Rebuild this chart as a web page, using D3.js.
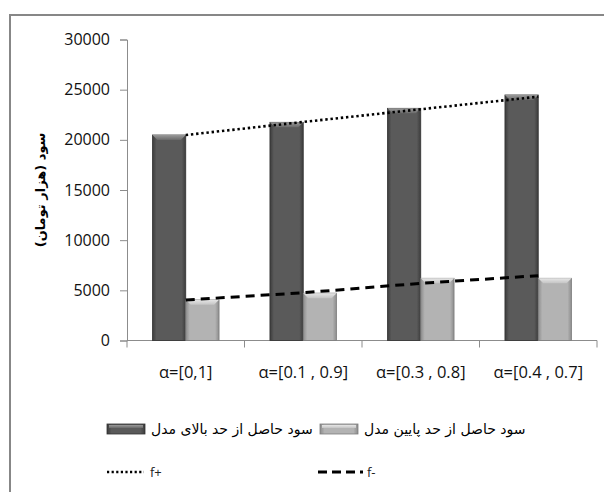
<!DOCTYPE html>
<html>
<head>
<meta charset="utf-8">
<script src="https://cdn.jsdelivr.net/npm/d3@7"></script>
<style>
  body { margin: 0; background: #fff; }
  svg { display: block; }
</style>
</head>
<body>
<div id="chart"></div>
<script>
const categories = ['α=[0,1]', 'α=[0.1 , 0.9]', 'α=[0.3 , 0.8]', 'α=[0.4 , 0.7]'];
const upperProfit = [20480, 21745, 23140, 24470];
const lowerProfit = [4050, 4720, 6200, 6200];
const fPlus  = [20480, 21780, 23050, 24300];
const fMinus = [4040, 4760, 5700, 6460];
const yTicks = [0, 5000, 10000, 15000, 20000, 25000, 30000];
const seriesNames = ['سود حاصل از حد بالای مدل', 'سود حاصل از حد پایین مدل'];

const W = 604, H = 492;
const margin = { top: 39.5, right: 7, bottom: 151.5, left: 127 };

const svg = d3.select('#chart').append('svg')
  .attr('width', W).attr('height', H);

const defs = svg.append('defs');
function sideGrad(id, edge, mid) {
  const g = defs.append('linearGradient').attr('id', id)
    .attr('x1', 0).attr('x2', 1).attr('y1', 0).attr('y2', 0);
  g.append('stop').attr('offset', '0%').attr('stop-color', edge);
  g.append('stop').attr('offset', '12%').attr('stop-color', mid);
  g.append('stop').attr('offset', '88%').attr('stop-color', mid);
  g.append('stop').attr('offset', '100%').attr('stop-color', edge);
}
sideGrad('gDark', '#3c3c3c', '#5a5a5a');
sideGrad('gLight', '#8c8c8c', '#b3b3b3');
function topGrad(id, a, b) {
  const g = defs.append('linearGradient').attr('id', id)
    .attr('x1', 0).attr('x2', 0).attr('y1', 0).attr('y2', 1);
  g.append('stop').attr('offset', '0%').attr('stop-color', a);
  g.append('stop').attr('offset', '100%').attr('stop-color', b);
}
topGrad('tDark', '#9a9a9a', '#6a6a6a');
topGrad('tLight', '#e6e6e6', '#c4c4c4');

// outer frame (cut off at right/bottom like the reference)
svg.append('rect')
  .attr('x', 10).attr('y', 15)
  .attr('width', 640).attr('height', 520)
  .attr('fill', 'none').attr('stroke', '#878787').attr('stroke-width', 2);

const x0 = d3.scaleBand()
  .domain(categories)
  .range([margin.left, W - margin.right])
  .paddingInner(0).paddingOuter(0);

const x1 = d3.scaleBand()
  .domain([0, 1])
  .range([0, x0.bandwidth()])
  .paddingInner(0).paddingOuter(0.764);

const y = d3.scaleLinear()
  .domain([0, 30000])
  .range([H - margin.bottom, margin.top]);

const font = '"Open Sans", "Noto Sans", sans-serif';
const arFont = '"DejaVu Sans", sans-serif';

// y axis
const yAxis = svg.append('g')
  .attr('transform', `translate(${margin.left},0)`)
  .call(d3.axisLeft(y).tickValues(yTicks).tickSize(7).tickPadding(10).tickFormat(d3.format('d')));
yAxis.selectAll('path, line').attr('stroke', '#8c8c8c');
yAxis.selectAll('text')
  .attr('font-family', font).attr('font-size', 16).attr('fill', '#111');

// x axis with ticks at category boundaries
const xAxisG = svg.append('g')
  .attr('transform', `translate(0,${y(0)})`);
xAxisG.append('line')
  .attr('x1', x0.range()[0]).attr('x2', x0.range()[1])
  .attr('stroke', '#8c8c8c');
const bounds = categories.map(c => x0(c)).concat([x0.range()[1]]);
xAxisG.selectAll('.xt').data(bounds).join('line')
  .attr('class', 'xt')
  .attr('x1', d => d).attr('x2', d => d)
  .attr('y1', 0).attr('y2', 7)
  .attr('stroke', '#8c8c8c');
xAxisG.selectAll('.xl').data(categories).join('text')
  .attr('class', 'xl')
  .attr('x', d => x0(d) + x0.bandwidth() / 2)
  .attr('y', 37)
  .attr('text-anchor', 'middle')
  .attr('font-family', font).attr('font-size', 16.5).attr('fill', '#111')
  .text(d => d);

// bars
const barData = [];
categories.forEach((c, i) => {
  barData.push({ c, s: 0, v: upperProfit[i] });
  barData.push({ c, s: 1, v: lowerProfit[i] });
});

const bars = svg.append('g');
bars.selectAll('.bar').data(barData).join('rect')
  .attr('class', 'bar')
  .attr('x', d => x0(d.c) + x1(d.s))
  .attr('y', d => y(d.v))
  .attr('width', x1.bandwidth())
  .attr('height', d => y(0) - y(d.v))
  .attr('fill', d => d.s === 0 ? 'url(#gDark)' : 'url(#gLight)')
  .attr('stroke', d => d.s === 0 ? '#333' : '#7e7e7e')
  .attr('stroke-width', 0.8);

bars.selectAll('.bevel').data(barData).join('path')
  .attr('class', 'bevel')
  .attr('d', d => {
    const bx = x0(d.c) + x1(d.s), bw = x1.bandwidth(), by = y(d.v), b = 5;
    return `M${bx},${by}L${bx + bw},${by}L${bx + bw - b},${by + b}L${bx + b},${by + b}Z`;
  })
  .attr('fill', d => d.s === 0 ? 'url(#tDark)' : 'url(#tLight)');

// trend lines
const cx = c => x0(c) + x0.bandwidth() / 2;
const line = d3.line().x((d, i) => cx(categories[i])).y(d => y(d));

svg.append('path')
  .datum(fPlus)
  .attr('d', line)
  .attr('fill', 'none').attr('stroke', '#000')
  .attr('stroke-width', 2.6).attr('stroke-dasharray', '2.4,2.8');

svg.append('path')
  .datum(fMinus)
  .attr('d', line)
  .attr('fill', 'none').attr('stroke', '#000')
  .attr('stroke-width', 3).attr('stroke-dasharray', '9,6');

// y axis title
svg.append('text')
  .attr('transform', 'translate(45,190) rotate(-90)')
  .attr('text-anchor', 'middle')
  .attr('direction', 'rtl')
  .attr('font-family', arFont).attr('font-size', 13).attr('font-weight', 'bold')
  .attr('fill', '#000')
  .text('سود (هزار تومان)');

// legend
const legend = svg.append('g');
const swatch = [
  { x: 107, fill: 'url(#gDark)', top: 'url(#tDark)', stroke: '#333' },
  { x: 320, fill: 'url(#gLight)', top: 'url(#tLight)', stroke: '#7e7e7e' }
];
swatch.forEach((s, i) => {
  legend.append('rect')
    .attr('x', s.x).attr('y', 424).attr('width', 38).attr('height', 10)
    .attr('fill', s.fill).attr('stroke', s.stroke).attr('stroke-width', 0.8);
  legend.append('rect')
    .attr('x', s.x + 2).attr('y', 425).attr('width', 34).attr('height', 3)
    .attr('fill', s.top);
  legend.append('text')
    .attr('x', s.x + 44).attr('y', 434)
    .attr('font-family', arFont).attr('font-size', 14).attr('fill', '#000')
    .text(seriesNames[i]);
});

legend.append('line')
  .attr('x1', 107).attr('x2', 144).attr('y1', 472).attr('y2', 472)
  .attr('stroke', '#000').attr('stroke-width', 2.4).attr('stroke-dasharray', '2.2,2.4');
legend.append('text')
  .attr('x', 150).attr('y', 477)
  .attr('font-family', font).attr('font-size', 13).attr('fill', '#222')
  .text('f+');

legend.append('line')
  .attr('x1', 318).attr('x2', 363).attr('y1', 472).attr('y2', 472)
  .attr('stroke', '#000').attr('stroke-width', 3).attr('stroke-dasharray', '9,5');
legend.append('text')
  .attr('x', 367).attr('y', 477)
  .attr('font-family', font).attr('font-size', 13).attr('fill', '#222')
  .text('f-');
</script>
</body>
</html>
